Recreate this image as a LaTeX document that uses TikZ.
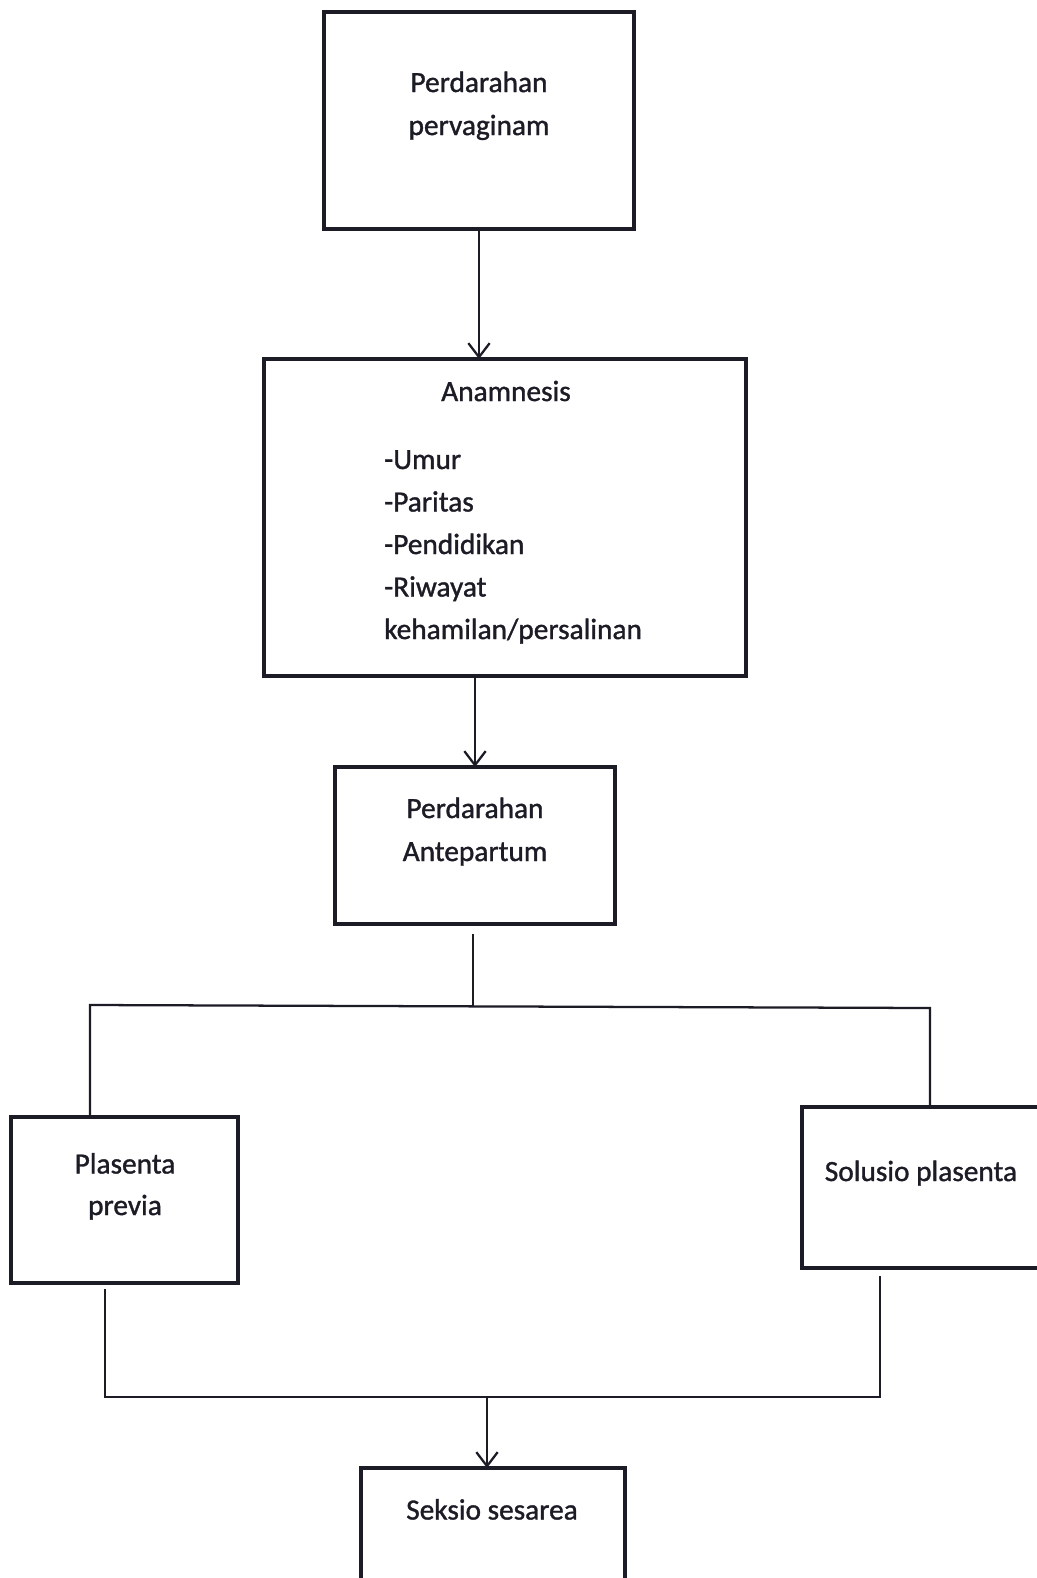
\documentclass[tikz,border=0pt]{standalone}
\usepackage{fontspec}
\setmainfont{Carlito}[FakeBold=1.2]
\usetikzlibrary{arrows.meta}
\definecolor{inkc}{RGB}{28,28,38}
\tikzset{
  boxnode/.style={draw=inkc, line width=3.4pt, rectangle, inner sep=0pt, outer sep=0pt},
  conn/.style={draw=inkc, line width=1.7pt},
  arr/.style={conn, -{Straight Barb[length=10.5pt,width=16pt,line width=1.7pt]}},
  txt/.style={anchor=base, inner sep=0pt, text=inkc, font=\fontsize{22}{32}\selectfont},
  ltxt/.style={txt, anchor=base west}
}
\begin{document}
\begin{tikzpicture}[x=0.75pt,y=-0.75pt]
\useasboundingbox[fill=white] (0,0) rectangle (1036,1578);

% boxes
\node[boxnode, minimum width=310*0.75pt, minimum height=217*0.75pt] (b1) at (479,120.5) {};
\node[boxnode, minimum width=482*0.75pt, minimum height=317*0.75pt] (b2) at (505,517.5) {};
\node[boxnode, minimum width=280*0.75pt, minimum height=157*0.75pt] (b3) at (475,845.5) {};
\node[boxnode, minimum width=227*0.75pt, minimum height=166*0.75pt] (b4) at (124.5,1200) {};
\node[boxnode, minimum width=250*0.75pt, minimum height=161*0.75pt] (b5) at (927,1187.5) {};
\node[boxnode, minimum width=264*0.75pt, minimum height=140*0.75pt] (b6) at (493,1538) {};

% texts
\node[txt] (t1a) at (479,92) {Perdarahan};
\node[txt] (t1b) at (479,135) {pervaginam};
\node[txt] (t2) at (506,401) {Anamnesis};
\node[ltxt] (l1) at (384,469) {-Umur};
\node[ltxt] (l2) at (384,511.5) {-Paritas};
\node[ltxt] (l3) at (384,554) {-Pendidikan};
\node[ltxt] (l4) at (384,596.5) {-Riwayat};
\node[ltxt] (l5) at (384,639) {kehamilan/persalinan};
\node[txt] (t3a) at (475,818) {Perdarahan};
\node[txt] (t3b) at (475,861) {Antepartum};
\node[txt] (t4a) at (125,1173.5) {Plasenta};
\node[txt] (t4b) at (125,1215) {previa};
\node[txt] (t5) at (921,1181) {Solusio plasenta};
\node[txt] (t6) at (492,1519.5) {Seksio sesarea};

% connector points
\coordinate (s3) at (473,934);
\coordinate (j1) at (473,1006);
\coordinate (hl) at (90,1005);
\coordinate (hr) at (930,1008);
\coordinate (s4) at (105,1289);
\coordinate (s5) at (880,1276);
\coordinate (bl) at (105,1397);
\coordinate (br) at (880,1397);
\coordinate (j2) at (487,1397);

% connectors
\draw[arr] (b1.south) -- (b1.south |- b2.north);
\draw[arr] (b3.north |- b2.south) -- (b3.north);
\draw[conn] (s3) -- (j1);
\draw[conn] (hl |- b4.north) -- (hl) -- (hr) -- (hr |- b5.north);
\draw[conn] (s4) -- (bl) -- (br) -- (s5);
\draw[arr] (j2) -- (j2 |- b6.north);
\end{tikzpicture}
\end{document}
